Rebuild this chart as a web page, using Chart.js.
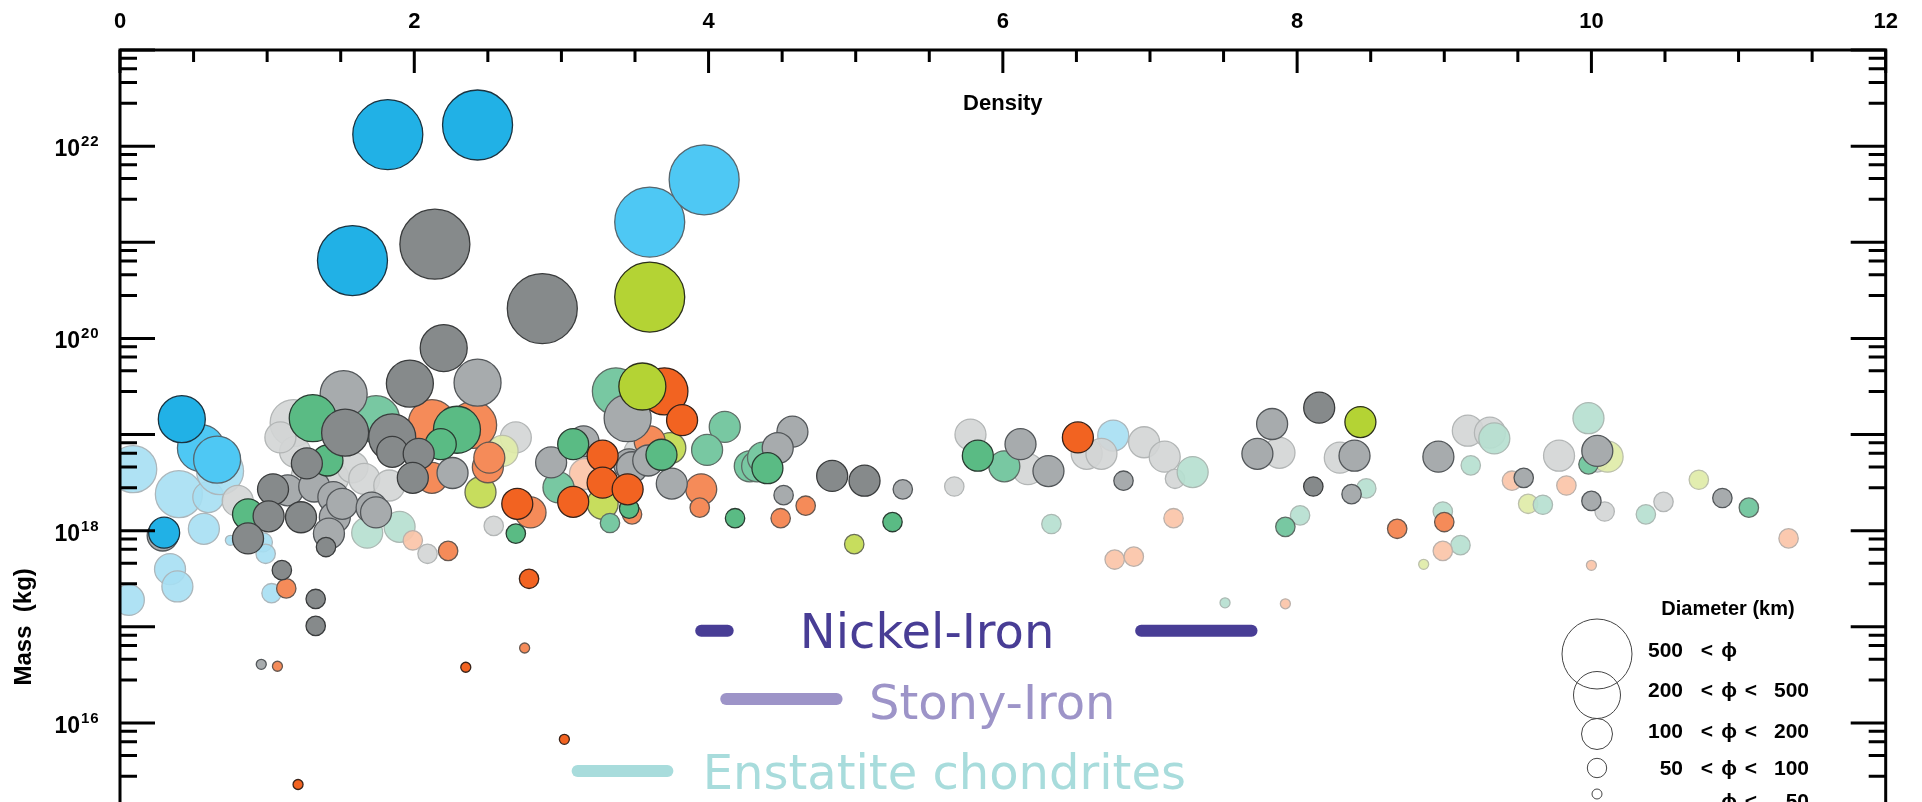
<!DOCTYPE html>
<html>
<head>
<meta charset="utf-8">
<title>Mass vs density</title>
<script src="https://cdn.jsdelivr.net/npm/chart.js@4.4.0/dist/chart.umd.min.js"></script>
<style>
  html, body { margin: 0; padding: 0; background: #fff; overflow: hidden; }
  #frame { width: 1922px; height: 802px; overflow: hidden; }
  canvas { display: block; }
</style>
</head>
<body>
<div id="frame"><canvas id="massChart" width="1922" height="1240"></canvas></div>
<script>
// size classes: 1 = phi<50 km, 2 = 50-100, 3 = 100-200, 4 = 200-500, 5 = >500
const SIZE_RADIUS = [0, 5, 9.7, 15.5, 23.5, 35];

// each point: [density, log10 mass in kg, size class]
const blue = [[1.82, 22.12, 5], [2.43, 22.22, 5], [1.58, 20.81, 5], [0.42, 19.16, 4], [0.30, 17.98, 3]];
const sky = [[3.60, 21.21, 5], [3.97, 21.65, 5], [0.55, 18.86, 4], [0.66, 18.74, 4]];
const paleBlue = [
    [0.09, 18.64, 4], [0.40, 18.38, 4], [0.60, 18.35, 3], [0.68, 18.62, 4], [0.57, 18.02, 3],
    [0.34, 17.60, 3], [0.39, 17.42, 3], [0.06, 17.28, 3], [0.97, 17.88, 2], [0.99, 17.76, 2],
    [1.03, 17.35, 2], [0.75, 17.90, 1], [6.75, 18.99, 3]
];
const darkGray = [
    [2.14, 20.98, 5], [2.87, 20.31, 5], [2.20, 19.90, 4], [1.97, 19.53, 4], [1.53, 19.02, 4],
    [1.85, 18.97, 4], [1.85, 18.82, 3], [2.03, 18.80, 3], [1.99, 18.55, 3], [1.27, 18.70, 3],
    [1.04, 18.43, 3], [1.01, 18.15, 3], [1.23, 18.14, 3], [0.87, 17.92, 3], [1.40, 17.83, 2],
    [1.10, 17.59, 2], [1.33, 17.29, 2], [1.33, 17.01, 2], [4.84, 18.57, 3], [5.06, 18.52, 3],
    [8.15, 19.28, 3], [8.11, 18.46, 2]
];
const gray = [
    [2.43, 19.54, 4], [1.52, 19.42, 4], [3.45, 19.17, 4], [1.14, 18.42, 3], [1.32, 18.46, 3],
    [1.45, 18.35, 3], [1.46, 18.14, 3], [1.51, 18.28, 3], [1.71, 18.24, 3], [1.74, 18.19, 3],
    [1.42, 17.97, 3], [2.26, 18.60, 3], [2.93, 18.71, 3], [3.15, 18.93, 3], [3.46, 18.69, 3],
    [3.48, 18.66, 3], [3.59, 18.73, 3], [3.75, 18.49, 3], [4.57, 19.03, 3], [4.47, 18.86, 3],
    [4.51, 18.37, 2], [5.32, 18.43, 2], [6.12, 18.90, 3], [6.31, 18.62, 3], [6.82, 18.52, 2],
    [7.83, 19.11, 3], [7.73, 18.80, 3], [8.39, 18.78, 3], [8.37, 18.38, 2], [8.96, 18.77, 3],
    [9.54, 18.55, 2], [10.04, 18.83, 3], [10.00, 18.31, 2], [10.89, 18.34, 2], [0.96, 16.61, 1],
    [0.29, 17.95, 3]
];
const lightGray = [
    [1.18, 19.12, 4], [1.19, 18.82, 3], [1.09, 18.97, 3], [1.27, 18.57, 3], [1.45, 18.55, 3],
    [1.58, 18.66, 3], [1.66, 18.54, 3], [1.83, 18.47, 3], [0.80, 18.31, 3], [2.69, 18.97, 3],
    [2.54, 18.05, 2], [2.09, 17.76, 2], [3.53, 18.81, 3], [5.67, 18.46, 2], [5.78, 19.00, 3],
    [6.17, 18.64, 3], [6.57, 18.80, 3], [6.67, 18.80, 3], [6.96, 18.92, 3], [7.10, 18.77, 3],
    [7.17, 18.54, 2], [7.88, 18.81, 3], [8.29, 18.76, 3], [9.16, 19.04, 3], [9.31, 19.02, 3],
    [9.78, 18.78, 3], [10.04, 18.71, 2], [10.09, 18.20, 2], [10.49, 18.30, 2]
];
const green = [
    [1.31, 19.17, 4], [2.29, 19.05, 4], [2.18, 18.90, 3], [1.41, 18.73, 3], [0.87, 18.17, 3],
    [3.08, 18.90, 3], [3.68, 18.79, 3], [4.40, 18.65, 3], [3.46, 18.23, 2], [2.69, 17.97, 2],
    [4.18, 18.13, 2], [5.25, 18.09, 2], [5.83, 18.78, 3]
];
const teal = [
    [1.74, 19.16, 4], [3.37, 19.45, 4], [4.11, 19.08, 3], [3.99, 18.84, 3], [4.28, 18.67, 3],
    [4.33, 18.67, 3], [4.37, 18.76, 3], [2.98, 18.45, 3], [3.33, 18.08, 2], [6.01, 18.67, 3],
    [7.92, 18.04, 2], [9.98, 18.69, 2], [11.07, 18.24, 2]
];
const mint = [
    [1.68, 17.98, 3], [1.90, 18.04, 3], [6.33, 18.07, 2], [7.29, 18.61, 3], [8.47, 18.44, 2],
    [8.02, 18.16, 2], [8.99, 18.20, 2], [9.11, 17.85, 2], [9.18, 18.68, 2], [9.34, 18.96, 3],
    [9.67, 18.27, 2], [9.98, 19.17, 3], [10.37, 18.17, 2], [7.51, 17.25, 1]
];
const orange = [
    [3.70, 19.45, 4], [3.82, 19.15, 3], [3.28, 18.78, 3], [3.28, 18.50, 3], [3.08, 18.30, 3],
    [3.45, 18.43, 3], [2.70, 18.28, 3], [2.78, 17.50, 2], [6.51, 18.97, 3], [2.35, 16.58, 1],
    [3.02, 15.83, 1], [1.21, 15.36, 1]
];
const salmon = [
    [2.12, 19.12, 4], [2.40, 19.10, 4], [2.12, 18.55, 3], [2.50, 18.66, 3], [2.51, 18.76, 3],
    [2.79, 18.19, 3], [2.23, 17.79, 2], [3.60, 18.93, 3], [3.95, 18.43, 3], [3.94, 18.24, 2],
    [3.48, 18.17, 2], [4.66, 18.26, 2], [4.49, 18.13, 2], [8.68, 18.02, 2], [9.00, 18.09, 2],
    [1.13, 17.40, 2], [1.07, 16.59, 1], [2.75, 16.78, 1]
];
const peach = [
    [1.99, 17.90, 2], [3.16, 18.59, 3], [7.16, 18.13, 2], [6.76, 17.70, 2], [6.89, 17.73, 2],
    [8.99, 17.79, 2], [9.46, 18.52, 2], [9.83, 18.47, 2], [11.34, 17.92, 2], [10.00, 17.64, 1],
    [7.92, 17.24, 1]
];
const lime = [[3.60, 20.43, 5], [3.55, 19.50, 4], [8.43, 19.13, 3]];
const lightLime = [[2.45, 18.40, 3], [3.28, 18.28, 3], [3.74, 18.86, 3], [4.99, 17.86, 2]];
const paleLime = [[2.60, 18.83, 3], [10.11, 18.77, 3], [9.57, 18.28, 2], [10.73, 18.53, 2], [8.86, 17.65, 1]];

// density ranges of meteorite classes: [from, to] and log10 mass of the bar
const nickelIronLow = [3.95, 4.13];
const nickelIronHigh = [6.94, 7.69];
const stonyIron = [4.12, 4.87];
const enstatite = [3.11, 3.72];
const rangeLogMass = [16.96, 16.25, 15.50];

// axes
const X_MIN = 0, X_MAX = 12, X_MAJOR = 2, X_MINOR = 0.5;
const Y_MIN_EXP = 11, Y_MAX_EXP = 23;
const Y_MINOR_STEPS = [2.8, 4.6, 6.4, 8.2];
const Y_LABEL_EXPS = [12, 14, 16, 18, 20, 22];

const DIAMETER_ROWS = [
    { size: 5, lo: '500', hi: '' },
    { size: 4, lo: '200', hi: '500' },
    { size: 3, lo: '100', hi: '200' },
    { size: 2, lo: '50', hi: '100' },
    { size: 1, lo: '', hi: '50' }
];

const GROUPS = [
    { pts: lime,      fill: '#b4d334', edge: '#2c301c' },
    { pts: blue,      fill: '#21b1e6', edge: '#1b3340' },
    { pts: sky,       fill: '#4ec8f4', edge: '#56666e' },
    { pts: orange,    fill: '#f26321', edge: '#38231a' },
    { pts: darkGray,  fill: '#868a8b', edge: '#3a3c3d' },
    { pts: green,     fill: '#5abb84', edge: '#2a3c32' },
    { pts: gray,      fill: '#a7abad', edge: '#53575a' },
    { pts: salmon,    fill: '#f58b59', edge: '#675850' },
    { pts: teal,      fill: '#78c8a2', edge: '#5e6d66' },
    { pts: lightLime, fill: '#c7dd5d', edge: '#686d56' },
    { pts: peach,     fill: 'rgba(251,196,168,0.92)', edge: '#bbb1ab' },
    { pts: mint,      fill: 'rgba(182,224,208,0.92)', edge: '#abb9b3' },
    { pts: paleLime,  fill: 'rgba(223,235,168,0.92)', edge: '#bcc0ab' },
    { pts: lightGray, fill: 'rgba(211,213,213,0.9)',  edge: '#b3b6b6' },
    { pts: paleBlue,  fill: 'rgba(166,223,243,0.9)',  edge: '#acb7bc' }
];

const RANGES = [
    { span: nickelIronLow,  logMass: rangeLogMass[0], color: '#483d95' },
    { span: nickelIronHigh, logMass: rangeLogMass[0], color: '#483d95' },
    { span: stonyIron,      logMass: rangeLogMass[1], color: '#9d94c8' },
    { span: enstatite,      logMass: rangeLogMass[2], color: '#a8dcdc' }
];

const RANGE_LABELS = [
    { text: 'Nickel-Iron', at: 4.62, logMass: rangeLogMass[0], color: '#483d95' },
    { text: 'Stony-Iron', at: 5.09, logMass: rangeLogMass[1] - 0.03, color: '#9d94c8' },
    { text: 'Enstatite chondrites', at: 3.96, logMass: rangeLogMass[2], color: '#a8dcdc' }
];

const BOLD = '"Liberation Sans", "DejaVu Sans", sans-serif';

const bubbleSets = GROUPS.map(g => ({
    type: 'bubble',
    data: g.pts.map(p => ({ x: p[0], y: Math.pow(10, p[1]), r: SIZE_RADIUS[p[2]] })),
    backgroundColor: g.fill,
    borderColor: g.edge,
    borderWidth: 1.3,
    clip: 0
}));

const rangeSets = RANGES.map(r => ({
    type: 'line',
    data: r.span.map(v => ({ x: v, y: Math.pow(10, r.logMass) })),
    borderColor: r.color,
    borderWidth: 12,
    borderCapStyle: 'round',
    pointRadius: 0,
    fill: false
}));

// axes frame, inward ticks, labels and legends
const decor = {
    id: 'decor',
    afterDatasetsDraw(chart) {
        const { ctx, chartArea: a, scales: { x, y } } = chart;
        ctx.save();

        RANGE_LABELS.forEach(r => {
            ctx.font = '48px "DejaVu Sans", sans-serif';
            ctx.fillStyle = r.color;
            ctx.textAlign = 'left';
            ctx.textBaseline = 'alphabetic';
            ctx.fillText(r.text, x.getPixelForValue(r.at), y.getPixelForValue(Math.pow(10, r.logMass)) + 17.5);
        });

        // frame
        ctx.strokeStyle = '#000';
        ctx.lineWidth = 3;
        ctx.beginPath();
        ctx.moveTo(a.left, a.bottom);
        ctx.lineTo(a.left, a.top);
        ctx.lineTo(a.right, a.top);
        ctx.lineTo(a.right, a.bottom);
        ctx.stroke();

        ctx.beginPath();
        for (let v = X_MIN; v <= X_MAX + 1e-9; v += X_MINOR) {
            const px = x.getPixelForValue(v);
            const len = Math.abs(v / X_MAJOR - Math.round(v / X_MAJOR)) < 1e-6 ? 23 : 12;
            ctx.moveTo(px, a.top);
            ctx.lineTo(px, a.top + len);
        }
        y.ticks.forEach(t => {
            const py = y.getPixelForValue(t.value);
            const e = Math.log10(t.value);
            const len = Math.abs(e - Math.round(e)) < 1e-6 ? 35 : 17;
            ctx.moveTo(a.left, py);
            ctx.lineTo(a.left + len, py);
            ctx.moveTo(a.right, py);
            ctx.lineTo(a.right - len, py);
        });
        ctx.stroke();

        // y labels as 10^n
        ctx.fillStyle = '#000';
        Y_LABEL_EXPS.forEach(e => {
            const py = y.getPixelForValue(Math.pow(10, e));
            ctx.font = 'bold 23px ' + BOLD;
            ctx.textAlign = 'right';
            ctx.fillText('10', a.left - 40, py + 10);
            ctx.font = 'bold 15px ' + BOLD;
            ctx.textAlign = 'left';
            ctx.letterSpacing = '1px';
            ctx.fillText(String(e), a.left - 39, py);
            ctx.letterSpacing = '0px';
        });

        // axis titles
        ctx.font = 'bold 22px ' + BOLD;
        ctx.textAlign = 'center';
        ctx.fillText('Density', (a.left + a.right) / 2, a.top + 60);
        ctx.save();
        ctx.translate(31, (a.top + a.bottom) / 2);
        ctx.rotate(-Math.PI / 2);
        ctx.font = 'bold 24px ' + BOLD;
        ctx.fillText('Mass  (kg)', 0, 0);
        ctx.restore();

        // diameter legend
        ctx.font = 'bold 20px ' + BOLD;
        ctx.textAlign = 'center';
        ctx.fillText('Diameter (km)', 1728, 615);
        const rowY = [654, 695, 734, 768, 794];
        const baseY = [657, 697, 738, 775, 808];
        ctx.lineWidth = 1;
        ctx.strokeStyle = '#444';
        DIAMETER_ROWS.forEach((row, i) => {
            ctx.beginPath();
            ctx.arc(1597, rowY[i], SIZE_RADIUS[row.size], 0, Math.PI * 2);
            ctx.stroke();
            ctx.font = 'bold 21px ' + BOLD;
            const b = baseY[i];
            ctx.textAlign = 'right';
            if (row.lo) ctx.fillText(row.lo, 1683, b);
            if (row.hi) ctx.fillText(row.hi, 1809, b);
            ctx.textAlign = 'center';
            if (row.lo) ctx.fillText('<', 1707, b);
            ctx.fillText('\u03d5', 1729, b);
            if (row.hi) ctx.fillText('<', 1751, b);
        });

        ctx.restore();
    }
};

new Chart(document.getElementById('massChart'), {
    type: 'bubble',
    data: { datasets: [...rangeSets, ...bubbleSets] },
    options: {
        responsive: false,
        animation: false,
        events: [],
        layout: { padding: { left: 0, top: 0, right: 31, bottom: 30 } },
        plugins: { legend: { display: false }, tooltip: { enabled: false } },
        scales: {
            x: {
                type: 'linear',
                position: 'top',
                min: X_MIN,
                max: X_MAX,
                grid: { display: false, drawTicks: false },
                border: { display: false },
                ticks: {
                    stepSize: X_MAJOR,
                    autoSkip: false,
                    maxRotation: 0,
                    padding: 15,
                    color: '#000',
                    font: { family: BOLD, weight: 'bold', size: 22 }
                },
                afterFit: s => { s.height = 50; }
            },
            y: {
                type: 'logarithmic',
                min: Math.pow(10, Y_MIN_EXP),
                max: Math.pow(10, Y_MAX_EXP),
                grid: { display: false },
                border: { display: false },
                ticks: { display: false },
                afterFit: s => { s.width = 120; },
                afterBuildTicks: s => {
                    const list = [];
                    for (let e = Y_MIN_EXP; e <= Y_MAX_EXP; e++) {
                        list.push({ value: Math.pow(10, e) });
                        if (e < Y_MAX_EXP) Y_MINOR_STEPS.forEach(m => list.push({ value: m * Math.pow(10, e) }));
                    }
                    s.ticks = list;
                }
            }
        }
    },
    plugins: [decor]
});
</script>
</body>
</html>
